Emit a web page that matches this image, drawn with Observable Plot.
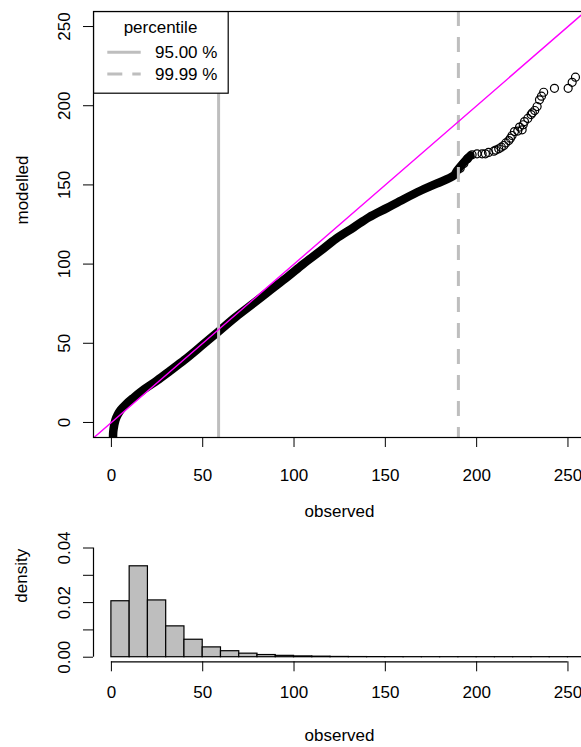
<!DOCTYPE html>
<html><head><meta charset="utf-8">
<script src="https://cdn.jsdelivr.net/npm/d3@7"></script>
<script src="https://cdn.jsdelivr.net/npm/@observablehq/plot@0.6"></script>
<style>
html,body{margin:0;padding:0;background:#fff;overflow:hidden;}
#wrap{position:relative;width:581px;height:747px;font-family:"Liberation Sans",Arial,sans-serif;}
#wrap svg{display:block;}
#legend{position:absolute;left:93px;top:11px;}
</style></head><body><div id="wrap"></div>
<script>
// ---- data: quantile pairs (dense part) ----
const bandObs = [0.9, 1.0, 1.5, 2.2, 3.5, 5, 8, 12, 18, 25, 32, 40, 48.7, 58.7, 68, 77.9, 87, 96.2, 105, 114.5, 123, 132.7, 141, 151, 160, 169.2, 178, 187.5, 189.3, 193.9, 196.6];
const bandMod = [-10, -6, -2, 1.5, 5, 7.8, 11.5, 15.5, 21, 26.5, 32.5, 39.5, 47.8, 57.5, 66.5, 75.3, 83.5, 91.7, 100, 108.3, 116, 123.2, 129.5, 135.5, 141, 146.3, 150.8, 155.9, 159, 165.4, 168.6];
// ---- data: individual upper-tail quantile pairs ----
const tailObs = [191, 193, 195, 197.5, 200.2, 203, 204.8, 206.5, 209.4, 210.5, 212.1, 213.5, 214.9, 216, 217.6, 218.5, 219.4, 220.7, 222.5, 223.5, 224.9, 225.5, 226.2, 228, 229.8, 230.5, 231.8, 233.1, 234.4, 235.5, 236.7, 242.6, 250.1, 252.3, 254.1];
const tailMod = [160.5, 163.5, 166.5, 169, 169.6, 169.6, 169.6, 170.5, 171.3, 172, 172.8, 173.8, 174.9, 176.5, 178, 179.5, 181.2, 183.7, 184, 186.5, 184.8, 188, 190, 192, 194.4, 195.5, 197, 199.5, 203.7, 206, 208.5, 211, 211, 214.8, 218];
// ---- percentile markers ----
const pctLabels = ["95.00 %", "99.99 %"];
const pctValues = [58.7, 190];
const legendTitle = "percentile";
// ---- axes ----
const axisTicks = [0, 50, 100, 150, 200, 250];
const xTitle = "observed";
const yTitleTop = "modelled";
const yTitleBottom = "density";
// ---- histogram ----
const binStart = [0,10,20,30,40,50,60,70,80,90,100,110,120,130,140,150,160,170,180,190,200,210,220,230,240,250];
const binWidth = 10;
const density = [0.0205,0.0333,0.0208,0.0113,0.0064,0.0036,0.0022,0.0013,0.0008,0.0005,0.0003,0.0002,0.0001,0.00006,0.00004,0.00003,0.00002,0.00002,0.00002,0.00002,0.00002,0.00002,0.00002,0.00002,0.00002,0.00002];
const densityTicks = [0, 0.01, 0.02, 0.03, 0.04];
const densityLabels = ["0.00", "", "0.02", "", "0.04"];

const FONT = "Liberation Sans, Arial, sans-serif";
const FS = "17px";
const xDomain = [-9.8, 259.6];
const yDomain = [-9.5, 259.5];
const band = bandObs.map((x, i) => ({x, y: bandMod[i]}));
const tail = tailObs.map((x, i) => ({x, y: tailMod[i]}));
const idLine = [Math.min(xDomain[0], yDomain[0]), Math.max(xDomain[1], yDomain[1])];

const topPlot = Plot.plot({
  width: 581, height: 525,
  marginLeft: 93, marginRight: -4, marginTop: 11, marginBottom: 88,
  style: {fontFamily: FONT, fontSize: FS, color: "#000", background: "#fff"},
  x: {domain: xDomain},
  y: {domain: yDomain},
  marks: [
    Plot.line(band, {x: "x", y: "y", curve: "catmull-rom", stroke: "#000", strokeWidth: 8.5, strokeLinecap: "round", strokeLinejoin: "round", clip: true}),
    Plot.dot(tail, {x: "x", y: "y", r: 4, stroke: "#000", strokeWidth: 1.2, fill: "none", clip: true}),
    Plot.ruleX([pctValues[0]], {stroke: "#bebebe", strokeWidth: 3}),
    Plot.ruleX([pctValues[1]], {stroke: "#bebebe", strokeWidth: 3, strokeDasharray: "15,11"}),
    Plot.line(idLine, {x: d => d, y: d => d, stroke: "#ff00ff", strokeWidth: 1.4, clip: true}),
    Plot.frame({stroke: "#000", strokeWidth: 1.2}),
    Plot.axisX({ticks: axisTicks, tickSize: 10, tickPadding: 21, label: null, tickFormat: d => String(d)}),
    Plot.axisY({ticks: axisTicks, tickSize: 10, tickPadding: 14, tickRotate: -90, label: null, tickFormat: d => String(d)}),
    Plot.text([xTitle], {frameAnchor: "bottom", dy: 79, fill: "#000"}),
    Plot.text([yTitleTop], {frameAnchor: "left", dx: -70.5, rotate: -90, fill: "#000"})
  ]
});

const bins = binStart.map((x0, i) => ({x0, x1: x0 + binWidth, d: density[i]}));
const y2Domain = [-0.00168, 0.04165];
const bottomPlot = Plot.plot({
  width: 581, height: 222,
  marginLeft: 93, marginRight: -4, marginTop: 18, marginBottom: 85.7,
  style: {fontFamily: FONT, fontSize: FS, color: "#000", background: "#fff"},
  x: {domain: xDomain},
  y: {domain: y2Domain},
  marks: [
    Plot.rectY(bins, {x1: "x0", x2: "x1", y: "d", fill: "#bebebe", stroke: "#000", strokeWidth: 1.2}),
    Plot.ruleY([y2Domain[0]], {x1: axisTicks[0], x2: axisTicks[axisTicks.length - 1], stroke: "#000", strokeWidth: 1.2}),
    Plot.ruleX([xDomain[0]], {y1: densityTicks[0], y2: densityTicks[densityTicks.length - 1], stroke: "#000", strokeWidth: 1.2}),
    Plot.axisX({ticks: axisTicks, tickSize: 10, tickPadding: 14, label: null, tickFormat: d => String(d)}),
    Plot.axisY({ticks: densityTicks, tickSize: 10, tickPadding: 14, tickRotate: -90, label: null, tickFormat: d => densityLabels[densityTicks.indexOf(d)]}),
    Plot.text([xTitle], {frameAnchor: "bottom", dy: 79, fill: "#000"}),
    Plot.text([yTitleBottom], {frameAnchor: "left", dx: -71.5, rotate: -90, fill: "#000"})
  ]
});

const wrap = document.getElementById("wrap");
wrap.appendChild(topPlot);
wrap.appendChild(bottomPlot);

// ---- legend (R style, top-left inside plot) ----
const lg = d3.select(wrap).append("svg").attr("id", "legend")
  .attr("width", 136).attr("height", 83)
  .style("font-family", FONT).style("font-size", FS);
lg.append("rect").attr("x", 0.6).attr("y", 0.6).attr("width", 134.6).attr("height", 81.6)
  .attr("fill", "#fff").attr("stroke", "#000").attr("stroke-width", 1.2);
lg.append("text").attr("x", 67.5).attr("y", 22).attr("text-anchor", "middle").attr("fill", "#000").text(legendTitle);
pctLabels.forEach((lab, i) => {
  const yy = 41.3 + i * 21.7;
  lg.append("line").attr("x1", 14.3).attr("x2", 47.7).attr("y1", yy).attr("y2", yy)
    .attr("stroke", "#bebebe").attr("stroke-width", 3)
    .attr("stroke-dasharray", i === 1 ? "15,10" : null);
  lg.append("text").attr("x", 62).attr("y", yy + 6).attr("fill", "#000").text(lab);
});
</script></body></html>
